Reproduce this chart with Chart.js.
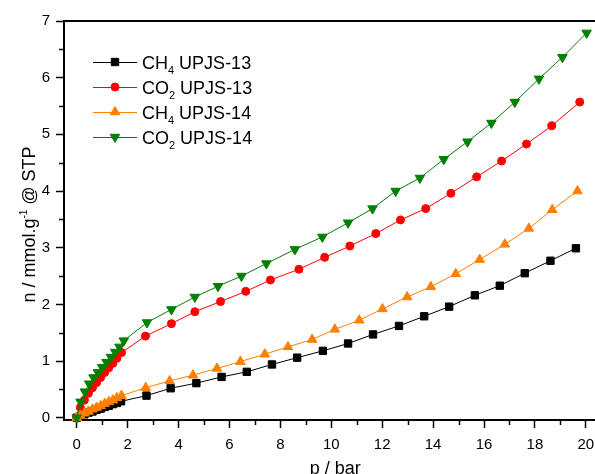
<!DOCTYPE html>
<html>
<head>
<meta charset="utf-8">
<script src="https://cdn.jsdelivr.net/npm/chart.js@4.4.0/dist/chart.umd.min.js"></script>
<style>
  html, body { margin: 0; padding: 0; background: #fff; }
  #chart { display: block; }
</style>
</head>
<body>
<canvas id="chart" width="595" height="474"></canvas>
<script>
// CH4 UPJS-13
const pCh4U13 = [0, 0.14, 0.30, 0.46, 0.62, 0.78, 0.94, 1.10, 1.26, 1.42, 1.58, 1.74, 2.74, 3.69, 4.70, 5.69, 6.68, 7.67, 8.66, 9.67, 10.66, 11.64, 12.66, 13.65, 14.63, 15.64, 16.62, 17.60, 18.61, 19.61];
const nCh4U13 = [0, 0.03, 0.06, 0.09, 0.11, 0.14, 0.16, 0.19, 0.21, 0.24, 0.26, 0.29, 0.39, 0.52, 0.61, 0.72, 0.81, 0.94, 1.06, 1.18, 1.31, 1.47, 1.62, 1.79, 1.96, 2.16, 2.33, 2.55, 2.77, 2.99];

// CO2 UPJS-13
const pCo2U13 = [0, 0.14, 0.30, 0.46, 0.62, 0.78, 0.94, 1.10, 1.26, 1.42, 1.58, 1.76, 2.70, 3.72, 4.64, 5.65, 6.64, 7.61, 8.73, 9.74, 10.73, 11.75, 12.72, 13.71, 14.70, 15.71, 16.69, 17.67, 18.66, 19.76];
const nCo2U13 = [0, 0.18, 0.31, 0.43, 0.53, 0.62, 0.71, 0.80, 0.88, 0.96, 1.05, 1.15, 1.44, 1.66, 1.87, 2.05, 2.23, 2.43, 2.62, 2.83, 3.03, 3.25, 3.49, 3.69, 3.96, 4.25, 4.53, 4.83, 5.15, 5.57];

// CH4 UPJS-14
const pCh4U14 = [0, 0.14, 0.30, 0.46, 0.62, 0.78, 0.94, 1.10, 1.26, 1.42, 1.58, 1.76, 2.71, 3.65, 4.57, 5.51, 6.43, 7.39, 8.30, 9.25, 10.14, 11.10, 12.01, 12.98, 13.91, 14.89, 15.83, 16.82, 17.76, 18.68, 19.67];
const nCh4U14 = [0, 0.04, 0.08, 0.11, 0.15, 0.18, 0.21, 0.25, 0.28, 0.31, 0.35, 0.39, 0.53, 0.65, 0.75, 0.87, 0.99, 1.12, 1.25, 1.38, 1.56, 1.72, 1.92, 2.13, 2.31, 2.54, 2.79, 3.06, 3.34, 3.67, 4.00];

// CO2 UPJS-14
const pCo2U14 = [0, 0.15, 0.32, 0.49, 0.66, 0.83, 1.00, 1.17, 1.34, 1.51, 1.68, 1.85, 2.76, 3.72, 4.64, 5.55, 6.47, 7.45, 8.57, 9.65, 10.66, 11.62, 12.53, 13.48, 14.42, 15.35, 16.29, 17.21, 18.16, 19.08, 20.03];
const nCo2U14 = [0, 0.28, 0.46, 0.60, 0.71, 0.80, 0.89, 0.98, 1.07, 1.16, 1.25, 1.36, 1.68, 1.91, 2.13, 2.32, 2.50, 2.72, 2.97, 3.19, 3.44, 3.69, 4.00, 4.23, 4.56, 4.87, 5.20, 5.57, 5.98, 6.36, 6.79];

// legend names: [base, subscript, rest]
const seriesNames = [
    ['CH', '4', ' UPJS-13'],
    ['CO', '2', ' UPJS-13'],
    ['CH', '4', ' UPJS-14'],
    ['CO', '2', ' UPJS-14']
];

const xTicks = [0, 2, 4, 6, 8, 10, 12, 14, 16, 18, 20];
const yTicks = [0, 1, 2, 3, 4, 5, 6, 7];

const xTitle = 'p / bar';
const yTitle = ['n / mmol.g', '-1', ' @ STP'];

const FONT = '"Liberation Sans", Arial, sans-serif';

function pts(xs, ys) {
    return xs.map((x, i) => ({ x: x, y: ys[i] }));
}

function midpoints(arr) {
    let out = [];
    for (let i = 0; i < arr.length - 1; i++) out.push((arr[i] + arr[i + 1]) / 2);
    return out;
}

function series(name, xs, ys, color, style, radius, rotation, order) {
    return {
        label: name.join(''),
        names: name,
        data: pts(xs, ys),
        borderColor: color,
        backgroundColor: color,
        borderWidth: 1,
        pointStyle: style,
        pointRadius: radius,
        pointRotation: rotation,
        pointBorderWidth: 1,
        pointBackgroundColor: color,
        pointBorderColor: color,
        tension: 0,
        clip: false,
        order: order
    };
}

// draws text with a sub- or superscript piece
function richText(ctx, parts, x, y) {
    parts.forEach(p => {
        ctx.font = p.size + 'px ' + FONT;
        ctx.fillText(p.t, x, y + p.dy);
        x += ctx.measureText(p.t).width;
    });
}

function richWidth(ctx, parts) {
    let w = 0;
    parts.forEach(p => {
        ctx.font = p.size + 'px ' + FONT;
        w += ctx.measureText(p.t).width;
    });
    return w;
}

const decorations = {
    id: 'decorations',
    afterDraw(chart) {
        const ctx = chart.ctx;
        const area = chart.chartArea;
        const xs = chart.scales.x;
        const ys = chart.scales.y;
        ctx.save();

        // top frame line
        ctx.strokeStyle = '#000';
        ctx.lineWidth = 2;
        ctx.beginPath();
        ctx.moveTo(area.left - 1, area.top);
        ctx.lineTo(chart.width, area.top);
        ctx.stroke();

        // minor ticks
        ctx.lineWidth = 1.5;
        ctx.beginPath();
        midpoints(xTicks).forEach(v => {
            const px = Math.round(xs.getPixelForValue(v)) + 0.5;
            ctx.moveTo(px, area.bottom);
            ctx.lineTo(px, area.bottom + 5);
        });
        midpoints(yTicks).forEach(v => {
            const py = Math.round(ys.getPixelForValue(v)) + 0.5;
            ctx.moveTo(area.left, py);
            ctx.lineTo(area.left - 5, py);
        });
        ctx.stroke();

        // axis titles
        ctx.fillStyle = '#000';
        ctx.textBaseline = 'alphabetic';
        ctx.textAlign = 'left';
        ctx.font = '18px ' + FONT;
        const xw = ctx.measureText(xTitle).width;
        ctx.fillText(xTitle, xs.getPixelForValue(10) + 4 - xw / 2, 474);

        const yParts = [
            { t: yTitle[0], size: 18, dy: 0 },
            { t: yTitle[1], size: 10, dy: -8 },
            { t: yTitle[2], size: 18, dy: 0 }
        ];
        ctx.save();
        ctx.translate(35, (area.top + area.bottom) / 2 + 4);
        ctx.rotate(-Math.PI / 2);
        richText(ctx, yParts, -richWidth(ctx, yParts) / 2, 0);
        ctx.restore();

        // legend
        chart.data.datasets.forEach((ds, i) => {
            const y = 62 + i * 25;
            ctx.strokeStyle = ds.borderColor;
            ctx.lineWidth = 1;
            ctx.beginPath();
            ctx.moveTo(93, y + 0.5);
            ctx.lineTo(137, y + 0.5);
            ctx.stroke();
            ctx.fillStyle = ds.pointBackgroundColor;
            Chart.helpers.drawPoint(ctx, {
                pointStyle: ds.pointStyle,
                radius: ds.pointRadius,
                rotation: ds.pointRotation,
                borderWidth: 1
            }, 115, y);
            ctx.fillStyle = '#000';
            richText(ctx, [
                { t: ds.names[0], size: 18, dy: 0 },
                { t: ds.names[1], size: 11, dy: 5 },
                { t: ds.names[2], size: 18, dy: 0 }
            ], 142, y + 6.5);
        });

        ctx.restore();
    }
};

const data = {
    datasets: [
        series(seriesNames[0], pCh4U13, nCh4U13, '#000000', 'rect', 5.2, 0, 4),
        series(seriesNames[1], pCo2U13, nCo2U13, '#ff0000', 'circle', 4, 0, 3),
        series(seriesNames[2], pCh4U14, nCh4U14, '#ff8000', 'triangle', 5.5, 0, 2),
        series(seriesNames[3], pCo2U14, nCo2U14, '#008000', 'triangle', 5.5, 180, 1)
    ]
};

const config = {
    type: 'line',
    data: data,
    options: {
        responsive: false,
        animation: false,
        layout: {
            autoPadding: false,
            padding: { top: 21, right: 0, left: 0, bottom: 0 }
        },
        scales: {
            x: {
                type: 'linear',
                min: -0.5,
                max: 20.36,
                afterFit: scale => {
                    scale.height = 54;
                    scale.paddingRight = 0;
                    scale.paddingLeft = 0;
                },
                afterBuildTicks: scale => { scale.ticks = xTicks.map(v => ({ value: v })); },
                border: { color: '#000', width: 2 },
                grid: { drawOnChartArea: false, drawTicks: true, tickLength: 8, tickColor: '#000', tickWidth: 1.5 },
                ticks: { color: '#000', font: { family: FONT, size: 15 }, padding: 8, maxRotation: 0, autoSkip: false }
            },
            y: {
                type: 'linear',
                min: -0.04,
                max: 7,
                afterFit: scale => {
                    scale.width = 64;
                    scale.paddingTop = 0;
                    scale.paddingBottom = 0;
                },
                afterBuildTicks: scale => { scale.ticks = yTicks.map(v => ({ value: v })); },
                border: { color: '#000', width: 2 },
                grid: { drawOnChartArea: false, drawTicks: true, tickLength: 8, tickColor: '#000', tickWidth: 1.5 },
                ticks: { color: '#000', font: { family: FONT, size: 15 }, padding: 6, autoSkip: false }
            }
        },
        plugins: {
            legend: { display: false },
            tooltip: { enabled: false }
        }
    },
    plugins: [decorations]
};

new Chart(document.getElementById('chart'), config);
</script>
</body>
</html>
